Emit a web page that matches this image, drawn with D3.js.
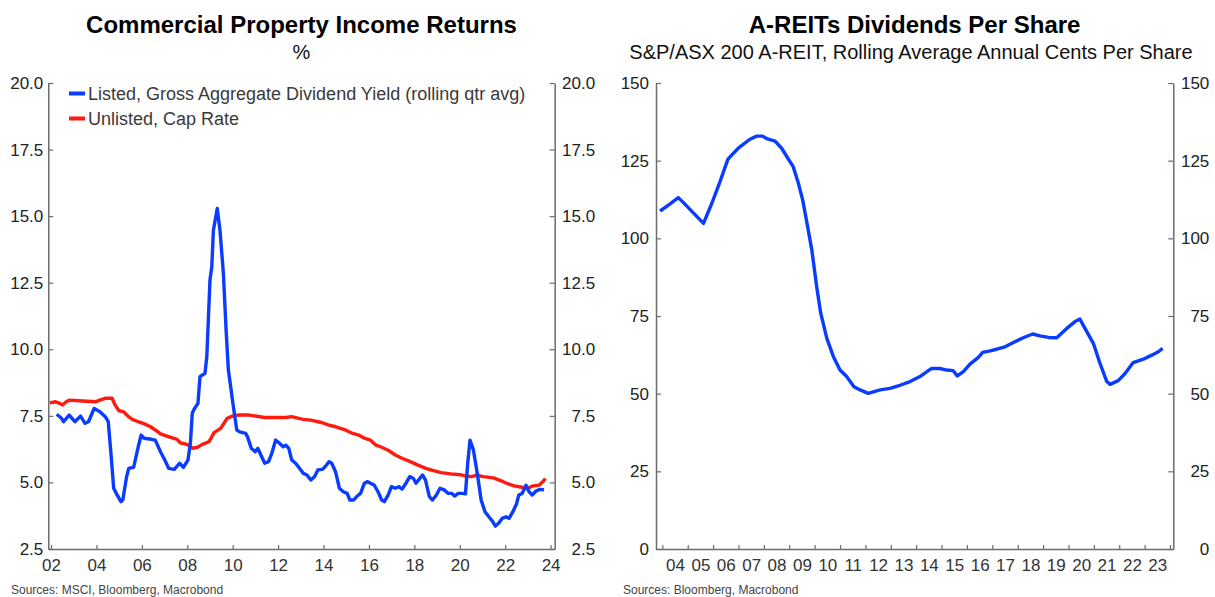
<!DOCTYPE html>
<html>
<head>
<meta charset="utf-8">
<script src="https://cdn.jsdelivr.net/npm/d3@7"></script>
<style>
  body { margin: 0; background: #fff; }
  svg { font-family: "Liberation Sans", Arial, sans-serif; }
</style>
</head>
<body>
<svg class="chart" width="1215" height="597"></svg>
<script>
// DATA
// left panel: listed gross aggregate dividend yield (rolling qtr avg), %
var listedYears = [2002.25,2002.46,2002.55,2002.8,2003.05,2003.3,2003.5,2003.65,2003.9,2004.14,2004.39,2004.52,
  2004.65,2004.76,2004.91,2005.08,2005.16,2005.33,2005.42,2005.64,2005.84,2005.97,2006.09,2006.43,2006.59,2006.82,
  2007.01,2007.18,2007.43,2007.66,2007.83,2008.03,2008.14,2008.22,2008.3,2008.47,2008.56,2008.78,2008.86,2009.0,
  2009.08,2009.15,2009.32,2009.44,2009.59,2009.71,2009.81,2009.93,2010.03,2010.18,2010.31,2010.57,2010.65,2010.82,
  2010.99,2011.11,2011.24,2011.41,2011.58,2011.72,2011.89,2012.06,2012.22,2012.34,2012.47,2012.6,2012.77,2012.94,
  2013.11,2013.27,2013.44,2013.61,2013.75,2013.95,2014.07,2014.24,2014.36,2014.53,2014.7,2014.87,2015.04,2015.16,
  2015.33,2015.46,2015.63,2015.8,2015.94,2016.06,2016.23,2016.4,2016.56,2016.68,2016.85,2016.99,2017.16,2017.32,
  2017.46,2017.63,2017.8,2017.96,2018.07,2018.24,2018.36,2018.49,2018.66,2018.8,2018.97,2019.13,2019.31,2019.48,
  2019.65,2019.77,2019.93,2020.1,2020.25,2020.35,2020.45,2020.6,2020.77,2020.94,2021.11,2021.28,2021.45,2021.57,
  2021.7,2021.87,2022.04,2022.17,2022.34,2022.5,2022.6,2022.75,2022.92,2023.05,2023.19,2023.36,2023.53,2023.71];
var listedYield = [7.56,7.41,7.28,7.53,7.28,7.49,7.22,7.28,7.78,7.66,7.47,7.28,
  5.97,4.78,4.53,4.28,4.34,5.22,5.53,5.57,6.34,6.78,6.66,6.62,6.59,6.15,
  5.84,5.53,5.49,5.72,5.57,5.84,6.5,7.6,7.75,7.97,8.97,9.1,9.72,12.6,
  13.1,14.47,15.29,14.47,12.85,10.72,9.22,8.47,7.84,6.97,6.9,6.84,6.72,6.28,
  6.15,6.28,6.03,5.72,5.78,6.09,6.59,6.47,6.34,6.4,6.28,5.84,5.72,5.53,
  5.34,5.28,5.09,5.22,5.47,5.49,5.59,5.78,5.72,5.4,4.78,4.65,4.59,4.34,
  4.34,4.47,4.59,4.97,5.03,4.97,4.9,4.65,4.34,4.28,4.53,4.84,4.78,4.84,
  4.75,4.97,5.22,5.15,4.97,5.15,5.28,5.09,4.47,4.34,4.53,4.78,4.72,4.59,
  4.59,4.49,4.59,4.59,4.57,5.72,6.59,6.22,5.34,4.34,3.9,3.71,3.53,3.36,
  3.46,3.65,3.71,3.65,3.9,4.2,4.53,4.59,4.89,4.65,4.53,4.68,4.74,4.72];

// left panel: unlisted cap rate, %
var unlistedYears = [2001.95,2002.2,2002.38,2002.51,2002.67,2002.8,2003.4,2003.98,2004.14,2004.39,2004.69,2004.82,
  2004.99,2005.19,2005.41,2005.58,2005.84,2006.14,2006.38,2006.59,2006.82,2007.1,2007.38,2007.55,2007.69,2007.94,
  2008.11,2008.23,2008.45,2008.67,2008.96,2009.18,2009.47,2009.76,2009.98,2010.23,2010.73,2011.41,2012.34,2012.59,
  2013.1,2013.44,2013.95,2014.2,2014.54,2014.96,2015.29,2015.55,2015.8,2016.06,2016.31,2016.56,2016.82,2017.16,
  2017.48,2017.82,2018.16,2018.5,2018.84,2019.18,2019.6,2020.02,2020.27,2020.5,2020.75,2021.04,2021.48,2021.8,
  2022.05,2022.39,2022.73,2022.98,2023.23,2023.5,2023.66,2023.77];
var unlistedCapRate = [7.99,8.03,7.97,7.91,8.03,8.09,8.06,8.03,8.09,8.16,8.16,7.91,
  7.69,7.66,7.47,7.37,7.28,7.19,7.09,6.97,6.82,6.74,6.66,6.62,6.49,6.44,
  6.37,6.28,6.32,6.43,6.53,6.87,7.03,7.41,7.49,7.53,7.53,7.44,7.44,7.47,
  7.37,7.34,7.24,7.16,7.09,6.97,6.84,6.78,6.66,6.59,6.4,6.32,6.22,6.03,
  5.9,5.78,5.65,5.53,5.44,5.37,5.32,5.29,5.24,5.22,5.27,5.22,5.17,5.07,
  4.97,4.87,4.82,4.78,4.87,4.9,5.03,5.15];

// right panel: S&P/ASX 200 A-REIT dividends per share, cents
var dpsYears = [2003.91,2004.24,2004.63,2004.89,2005.22,2005.62,2005.95,2006.27,2006.58,2006.73,2007.03,2007.45,
  2007.72,2007.95,2008.14,2008.44,2008.7,2008.92,2009.16,2009.36,2009.53,2009.69,2009.89,2010.08,2010.24,2010.48,
  2010.74,2011.0,2011.26,2011.55,2011.79,2012.11,2012.58,2012.97,2013.36,2013.76,2014.15,2014.55,2014.61,2014.94,
  2015.2,2015.46,2015.62,2015.86,2016.12,2016.45,2016.62,2016.91,2017.17,2017.5,2017.89,2018.22,2018.59,2018.88,
  2019.21,2019.54,2019.93,2020.26,2020.45,2020.65,2020.98,2021.24,2021.51,2021.64,2021.96,2022.23,2022.55,2022.95,
  2023.28,2023.54,2023.71];
var dpsCents = [108.8,110.7,113.1,111.0,108.2,104.8,111.3,118.2,125.4,126.8,129.3,131.9,
  132.9,132.9,132.0,131.3,129.0,126.1,123.0,117.7,112.3,105.3,96.2,84.4,75.9,67.8,
  61.9,57.6,55.5,52.2,51.2,50.1,51.2,51.7,52.7,53.9,55.5,57.8,58.1,58.1,
  57.6,57.4,55.7,57.1,59.5,61.7,63.3,63.8,64.3,65.1,66.7,68.0,69.2,68.6,
  68.1,68.0,71.0,73.2,74.0,71.0,66.2,59.8,53.9,53.0,54.2,56.5,60.0,61.1,
  62.4,63.5,64.6];

// ticks
var leftYTicks = [2.5,5,7.5,10,12.5,15,17.5,20];
var leftXTicks = [2002,2004,2006,2008,2010,2012,2014,2016,2018,2020,2022,2024];
var rightYTicks = [0,25,50,75,100,125,150];
var rightXTicks = d3.range(2004,2025);
var rightXLabels = d3.range(2004,2024);

// CONSTANTS
var blue = "#0a3cff";
var red = "#ff1a0f";
var axisColor = "#6b6b6b";
var lineWidth = 3.4;
var top_ = 83, bottom = 549;

var svg = d3.select(".chart");

var twoDigit = function(y){ return ("0" + (y % 100)).substr(-2); };

var styleAxis = function(g){
  g.selectAll(".domain").attr("stroke", axisColor).attr("stroke-width", 1.5);
  g.selectAll(".tick line").attr("stroke", axisColor).attr("stroke-width", 1.2);
  g.selectAll("text").attr("fill", "#222").style("font-size", "17px")
    .style("font-family", "'Liberation Sans', Arial, sans-serif");
};

// LEFT PANEL
var lx = d3.scaleLinear().domain([2001.88, 2024.18]).range([48.3, 554.7]);
var ly = d3.scaleLinear().domain([2.5, 20]).range([bottom, top_]);

var left = svg.append("g");

left.append("g")
  .attr("transform", "translate(" + lx.range()[0] + ",0)")
  .call(d3.axisLeft(ly).tickValues(leftYTicks).tickFormat(d3.format(".1f"))
    .tickSizeInner(-5).tickSizeOuter(0).tickPadding(5))
  .call(styleAxis);

left.append("g")
  .attr("transform", "translate(" + lx.range()[1] + ",0)")
  .call(d3.axisRight(ly).tickValues(leftYTicks).tickFormat(d3.format(".1f"))
    .tickSizeInner(-5).tickSizeOuter(0))
  .call(styleAxis)
  .selectAll("text").attr("x", 40.5).attr("text-anchor", "end");

left.append("g")
  .attr("transform", "translate(0," + bottom + ")")
  .call(d3.axisBottom(lx).tickValues(leftXTicks).tickFormat(twoDigit)
    .tickSizeInner(-4).tickSizeOuter(0).tickPadding(10))
  .call(styleAxis)
  .selectAll("text").attr("fill", "#333");

var leftLine = function(xs, ys){
  return d3.line()
    .x(function(d, i){ return lx(xs[i]); })
    .y(function(d, i){ return ly(ys[i]); })(xs);
};

left.append("path")
  .attr("d", leftLine(unlistedYears, unlistedCapRate))
  .attr("fill", "none").attr("stroke", red).attr("stroke-width", lineWidth)
  .attr("stroke-linejoin", "round");

left.append("path")
  .attr("d", leftLine(listedYears, listedYield))
  .attr("fill", "none").attr("stroke", blue).attr("stroke-width", lineWidth)
  .attr("stroke-linejoin", "round");

// legend
var legend = [
  {title: "Listed, Gross Aggregate Dividend Yield (rolling qtr avg)", color: blue},
  {title: "Unlisted, Cap Rate", color: red}
];
var lg = left.selectAll(".legend").data(legend).enter().append("g")
  .attr("transform", function(d, i){ return "translate(69," + (93.5 + i * 25) + ")"; });
lg.append("rect").attr("x", 0).attr("y", -2).attr("width", 16).attr("height", 4)
  .attr("fill", function(d){ return d.color; });
lg.append("text").attr("x", 19).attr("y", 6.5).style("font-size", "18px").attr("fill", "#3a3a3a")
  .text(function(d){ return d.title; });

left.append("text").attr("x", 301.5).attr("y", 33).attr("text-anchor", "middle")
  .style("font-size", "24px").style("font-weight", "bold").attr("fill", "#000")
  .text("Commercial Property Income Returns");
left.append("text").attr("x", 301.5).attr("y", 59).attr("text-anchor", "middle")
  .style("font-size", "20px").attr("fill", "#111").text("%");
left.append("text").attr("x", 11).attr("y", 594).style("font-size", "12px").attr("fill", "#444")
  .text("Sources: MSCI, Bloomberg, Macrobond");

// RIGHT PANEL
var rx = d3.scaleLinear().domain([2003.75, 2024.13]).range([656, 1173.3]);
var ry = d3.scaleLinear().domain([0, 150]).range([bottom, top_]);

var right = svg.append("g");

right.append("g")
  .attr("transform", "translate(" + rx.range()[0] + ",0)")
  .call(d3.axisLeft(ry).tickValues(rightYTicks).tickSizeInner(-5).tickSizeOuter(0).tickPadding(7))
  .call(styleAxis);

right.append("g")
  .attr("transform", "translate(" + rx.range()[1] + ",0)")
  .call(d3.axisRight(ry).tickValues(rightYTicks).tickSizeInner(-5).tickSizeOuter(0))
  .call(styleAxis)
  .selectAll("text").attr("x", 36).attr("text-anchor", "end");

right.append("g")
  .attr("transform", "translate(0," + bottom + ")")
  .call(d3.axisBottom(rx).tickValues(rightXTicks).tickFormat("").tickSizeInner(-4).tickSizeOuter(0))
  .call(styleAxis);

// year labels sit between the year ticks
right.append("g")
  .attr("transform", "translate(0," + bottom + ")")
  .call(d3.axisBottom(rx).tickValues(rightXLabels.map(function(y){ return y + 0.5; }))
    .tickFormat(function(d){ return twoDigit(Math.floor(d)); }).tickSize(0).tickPadding(10))
  .call(styleAxis)
  .call(function(g){ g.select(".domain").remove(); })
  .selectAll("text").attr("fill", "#333");

right.append("path")
  .attr("d", d3.line()
    .x(function(d, i){ return rx(dpsYears[i]); })
    .y(function(d, i){ return ry(dpsCents[i]); })(dpsYears))
  .attr("fill", "none").attr("stroke", blue).attr("stroke-width", lineWidth)
  .attr("stroke-linejoin", "round");

right.append("text").attr("x", 914.6).attr("y", 33).attr("text-anchor", "middle")
  .style("font-size", "24px").style("font-weight", "bold").attr("fill", "#000")
  .text("A-REITs Dividends Per Share");
right.append("text").attr("x", 911).attr("y", 59).attr("text-anchor", "middle")
  .style("font-size", "20px").attr("fill", "#111")
  .text("S&P/ASX 200 A-REIT, Rolling Average Annual Cents Per Share");
right.append("text").attr("x", 623).attr("y", 594).style("font-size", "12px").attr("fill", "#444")
  .text("Sources: Bloomberg, Macrobond");
</script>
</body>
</html>
